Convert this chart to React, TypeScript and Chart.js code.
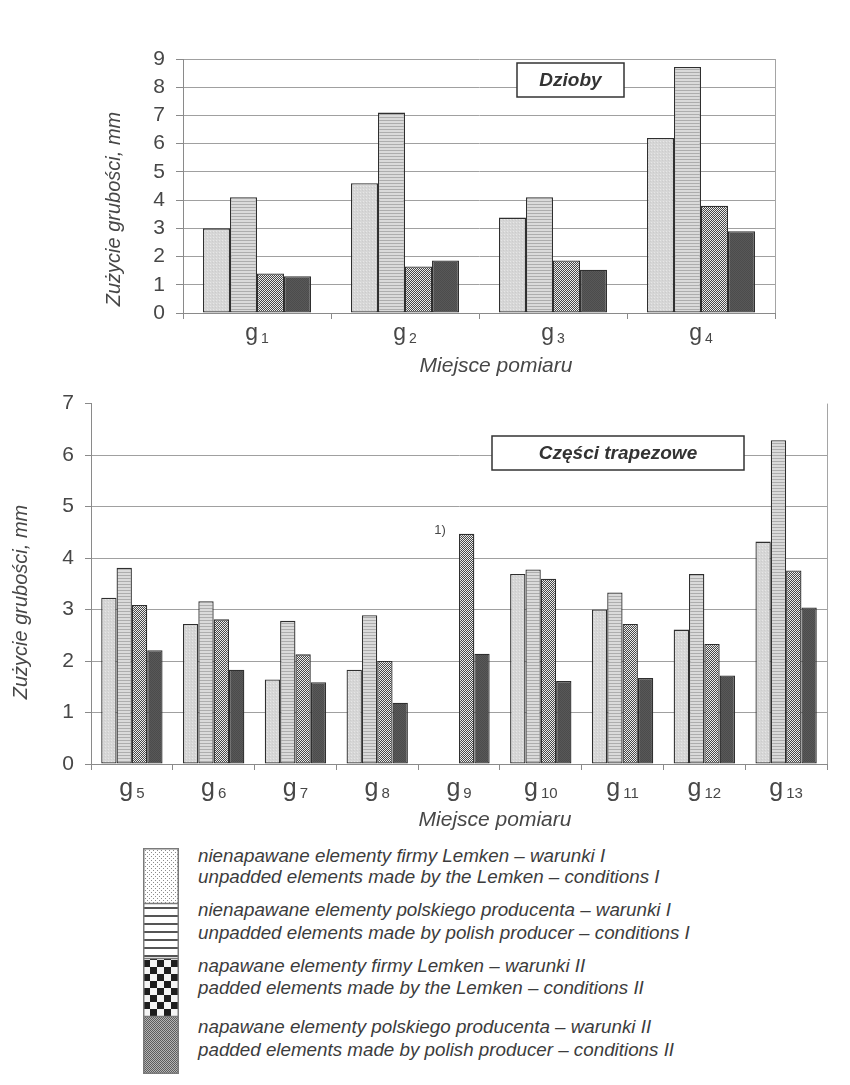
import React, { useEffect, useRef } from 'react';
import { Chart, registerables } from 'chart.js';

Chart.register(...registerables);

const FONT = '"Liberation Sans", Arial, Helvetica, sans-serif';
const TEXT = '#474747';

// ---------- data ----------
const topCategories = ['1', '2', '3', '4'];
const topLemkenI = [3.0, 4.6, 3.38, 6.2];
const topPolishI = [4.1, 7.1, 4.1, 8.72];
const topLemkenII = [1.4, 1.65, 1.86, 3.8];
const topPolishII = [1.3, 1.86, 1.53, 2.9];
const topMax = 9;

const bottomCategories = ['5', '6', '7', '8', '9', '10', '11', '12', '13'];
const bottomLemkenI = [3.23, 2.72, 1.64, 1.83, null, 3.69, 3.0, 2.61, 4.32];
const bottomPolishI = [3.81, 3.16, 2.78, 2.89, null, 3.78, 3.33, 3.69, 6.29];
const bottomLemkenII = [3.09, 2.81, 2.13, 2.0, 4.47, 3.6, 2.72, 2.33, 3.76];
const bottomPolishII = [2.21, 1.83, 1.59, 1.19, 2.14, 1.61, 1.67, 1.72, 3.04];
const bottomMax = 7;

const seriesNames = [
  'nienapawane elementy firmy Lemken – warunki I',
  'nienapawane elementy polskiego producenta – warunki I',
  'napawane elementy firmy Lemken – warunki II',
  'napawane elementy polskiego producenta – warunki II',
];
const seriesNamesEn = [
  'unpadded elements made by the Lemken – conditions I',
  'unpadded elements made by polish producer – conditions I',
  'padded elements made by the Lemken – conditions II',
  'padded elements made by polish producer – conditions II',
];

const xTitle = 'Miejsce pomiaru';
const yTitle = 'Zużycie grubości, mm';
const topTitle = 'Dzioby';
const bottomTitle = 'Części trapezowe';
const noteLabel = '1)';
const noteCategory = 4; // g9
const noteSeries = 2;

// ---------- patterns ----------
function tile(w: number, h: number, draw: (c: CanvasRenderingContext2D) => void): CanvasPattern {
  const cv = document.createElement('canvas');
  cv.width = w;
  cv.height = h;
  const c = cv.getContext('2d')!;
  draw(c);
  return c.createPattern(cv, 'repeat')!;
}

function barPatterns(): CanvasPattern[] {
  const p1 = tile(3, 3, (c) => {
    c.fillStyle = '#d6d6d6';
    c.fillRect(0, 0, 3, 3);
    c.fillStyle = '#e6e6e6';
    c.fillRect(0, 0, 1, 1);
    c.fillStyle = '#cccccc';
    c.fillRect(2, 1, 1, 1);
  });
  const p2 = tile(3, 3, (c) => {
    c.fillStyle = '#dadada';
    c.fillRect(0, 0, 3, 3);
    c.fillStyle = '#adadad';
    c.fillRect(0, 0, 3, 1);
  });
  const p3 = tile(2, 2, (c) => {
    c.fillStyle = '#474747';
    c.fillRect(0, 0, 2, 2);
    c.fillStyle = '#ececec';
    c.fillRect(0, 0, 1, 1);
    c.fillRect(1, 1, 1, 1);
  });
  const p4 = tile(2, 2, (c) => {
    c.fillStyle = '#585858';
    c.fillRect(0, 0, 2, 2);
    c.fillStyle = '#4c4c4c';
    c.fillRect(0, 0, 1, 1);
    c.fillRect(1, 1, 1, 1);
  });
  return [p1, p2, p3, p4];
}

// ---------- chart builder ----------
type Spec = {
  labels: string[];
  series: (number | null)[][];
  max: number;
  width: number;
  height: number;
  area: { left: number; right: number; top: number; bottom: number };
  catPct: number;
  tickLen: number;
  hideTopGrid: boolean;
  gFont: number;
  gBase: number;
  subFont: number;
  subBase: number;
  xTitleX: number;
  xTitleBase: number;
  yTitleX: number;
  yTitleY: number;
  box: { x: number; y: number; w: number; h: number };
  boxText: string;
  note?: boolean;
};

function buildChart(canvas: HTMLCanvasElement, s: Spec): Chart {
  const pats = barPatterns();
  const decor = {
    id: 'decor',
    afterDraw(chart: any) {
      const { ctx, chartArea: a } = chart;
      const x = chart.scales.x;
      const y = chart.scales.y;
      ctx.save();
      // right border of plot
      ctx.strokeStyle = '#a5a5a5';
      ctx.lineWidth = 1;
      ctx.beginPath();
      ctx.moveTo(Math.round(a.right) + 0.5, a.top);
      ctx.lineTo(Math.round(a.right) + 0.5, a.bottom);
      ctx.stroke();

      // category labels g + subscript
      ctx.fillStyle = TEXT;
      ctx.textBaseline = 'alphabetic';
      ctx.textAlign = 'left';
      s.labels.forEach((lab, i) => {
        const cx = x.getPixelForValue(i);
        ctx.font = `${s.gFont}px ${FONT}`;
        const gw = ctx.measureText('g').width;
        ctx.font = `${s.subFont}px ${FONT}`;
        const sw = ctx.measureText(lab).width;
        const gap = 3;
        const sx = cx - (gw + gap + sw) / 2;
        ctx.font = `${s.gFont}px ${FONT}`;
        ctx.fillText('g', sx, s.gBase);
        ctx.font = `${s.subFont}px ${FONT}`;
        ctx.fillText(lab, sx + gw + gap, s.subBase);
      });

      // x title
      ctx.font = `italic 21px ${FONT}`;
      ctx.textAlign = 'center';
      ctx.fillText(xTitle, s.xTitleX, s.xTitleBase);

      // y title
      ctx.save();
      ctx.translate(s.yTitleX, s.yTitleY);
      ctx.rotate(-Math.PI / 2);
      ctx.font = `italic 20px ${FONT}`;
      ctx.textAlign = 'center';
      ctx.textBaseline = 'middle';
      ctx.fillText(yTitle, 0, 0);
      ctx.restore();

      // title box
      const b = s.box;
      ctx.fillStyle = '#ffffff';
      ctx.fillRect(b.x, b.y, b.w, b.h);
      ctx.strokeStyle = '#333333';
      ctx.lineWidth = 1.5;
      ctx.strokeRect(b.x, b.y, b.w, b.h);
      ctx.fillStyle = '#333333';
      ctx.font = `italic bold 19px ${FONT}`;
      ctx.textAlign = 'center';
      ctx.textBaseline = 'middle';
      ctx.fillText(s.boxText, b.x + b.w / 2, b.y + b.h / 2 + 1);

      // note
      if (s.note) {
        const v = s.series[noteSeries][noteCategory] as number;
        const nx = x.getPixelForValue(noteCategory) - 19;
        const ny = y.getPixelForValue(v);
        ctx.fillStyle = TEXT;
        ctx.font = `13px ${FONT}`;
        ctx.textAlign = 'center';
        ctx.textBaseline = 'alphabetic';
        ctx.fillText(noteLabel, nx, ny);
      }
      ctx.restore();
    },
  };

  const padLeft = 0;
  return new Chart(canvas, {
    type: 'bar',
    data: {
      labels: s.labels,
      datasets: s.series.map((d, i) => ({
        label: seriesNames[i],
        data: d,
        backgroundColor: pats[i],
        borderColor: '#2f2f2f',
        borderWidth: 1.3,
        borderSkipped: false,
        categoryPercentage: s.catPct,
        barPercentage: 1.0,
      })),
    },
    options: {
      responsive: false,
      animation: false,
      devicePixelRatio: 1,
      layout: {
        padding: {
          left: padLeft,
          right: s.width - s.area.right,
          top: s.area.top,
          bottom: 0,
        },
      },
      plugins: {
        legend: { display: false },
        tooltip: { enabled: false },
        title: { display: false },
      },
      scales: {
        x: {
          type: 'category',
          offset: true,
          grid: {
            display: true,
            drawOnChartArea: false,
            drawTicks: true,
            tickLength: 6,
            offset: true,
            color: '#8a8a8a',
            tickColor: '#8a8a8a',
          },
          border: { display: true, color: '#8a8a8a', width: 1 },
          ticks: { display: false },
          afterFit: (scale: any) => {
            scale.height = s.height - s.area.bottom;
          },
        },
        y: {
          min: 0,
          max: s.max,
          ticks: {
            stepSize: 1,
            color: TEXT,
            font: { family: FONT, size: 21 },
            padding: 11,
          },
          grid: {
            color: (c: any) =>
              s.hideTopGrid && c.tick && c.tick.value === s.max ? 'rgba(0,0,0,0)' : '#a0a0a0',
            tickColor: '#8a8a8a',
            tickLength: s.tickLen,
            lineWidth: 1,
          },
          border: { display: true, color: '#8a8a8a', width: 1 },
          afterFit: (scale: any) => {
            scale.width = s.area.left - padLeft;
          },
        },
      },
    },
    plugins: [decor],
  } as any);
}

// ---------- legend ----------
function drawLegendPatches(cv: HTMLCanvasElement) {
  const c = cv.getContext('2d')!;
  const W = cv.width;
  const bounds = [0, 55, 110, 168, 225];
  c.fillStyle = '#ffffff';
  c.fillRect(0, 0, W, cv.height);
  const p1 = tile(4, 4, (t) => {
    t.fillStyle = '#ffffff';
    t.fillRect(0, 0, 4, 4);
    t.fillStyle = '#8c8c8c';
    t.fillRect(0, 0, 1, 1);
    t.fillRect(2, 2, 1, 1);
  });
  const p2 = tile(4, 8, (t) => {
    t.fillStyle = '#ffffff';
    t.fillRect(0, 0, 4, 8);
    t.fillStyle = '#555555';
    t.fillRect(0, 3, 4, 2);
  });
  const p3 = tile(14, 14, (t) => {
    t.fillStyle = '#f4f4f4';
    t.fillRect(0, 0, 14, 14);
    t.fillStyle = '#1e1e1e';
    t.fillRect(0, 0, 7, 7);
    t.fillRect(7, 7, 7, 7);
  });
  const p4 = tile(2, 2, (t) => {
    t.fillStyle = '#5c5c5c';
    t.fillRect(0, 0, 2, 2);
    t.fillStyle = '#b5b5b5';
    t.fillRect(0, 0, 1, 1);
    t.fillRect(1, 1, 1, 1);
  });
  const pats = [p1, p2, p3, p4];
  for (let i = 0; i < 4; i++) {
    c.fillStyle = pats[i];
    c.fillRect(1, bounds[i] + 1, W - 2, bounds[i + 1] - bounds[i]);
  }
  c.strokeStyle = '#7a7a7a';
  c.lineWidth = 1.5;
  c.strokeRect(0.75, 0.75, W - 1.5, bounds[4] - 0.5);
  for (let i = 1; i < 4; i++) {
    c.beginPath();
    c.moveTo(0, bounds[i] + 0.5);
    c.lineTo(W, bounds[i] + 0.5);
    c.stroke();
  }
}

const legendBaselines = [863, 884, 917, 940, 973, 995, 1034, 1057];

export default function App() {
  const topRef = useRef<HTMLCanvasElement>(null);
  const botRef = useRef<HTMLCanvasElement>(null);
  const legRef = useRef<HTMLCanvasElement>(null);

  useEffect(() => {
    const top = buildChart(topRef.current!, {
      labels: topCategories,
      series: [topLemkenI, topPolishI, topLemkenII, topPolishII],
      max: topMax,
      width: 850,
      height: 380,
      area: { left: 183, right: 775, top: 59, bottom: 313 },
      catPct: 0.73,
      tickLen: 7,
      hideTopGrid: false,
      gFont: 23,
      gBase: 340,
      subFont: 14,
      subBase: 343,
      xTitleX: 496,
      xTitleBase: 372,
      yTitleX: 114,
      yTitleY: 209,
      box: { x: 517, y: 63, w: 107, h: 34 },
      boxText: topTitle,
    });
    const bot = buildChart(botRef.current!, {
      labels: bottomCategories,
      series: [bottomLemkenI, bottomPolishI, bottomLemkenII, bottomPolishII],
      max: bottomMax,
      width: 850,
      height: 465,
      area: { left: 91, right: 827, top: 23, bottom: 384 },
      catPct: 0.75,
      tickLen: 6,
      hideTopGrid: true,
      gFont: 25,
      gBase: 796 - 380,
      subFont: 15,
      subBase: 798 - 380,
      xTitleX: 495,
      xTitleBase: 826 - 380,
      yTitleX: 21,
      yTitleY: 602 - 380,
      box: { x: 492, y: 436 - 380, w: 252, h: 34 },
      boxText: bottomTitle,
      note: true,
    });
    if (legRef.current) drawLegendPatches(legRef.current);
    return () => {
      top.destroy();
      bot.destroy();
    };
  }, []);

  const legendTexts: string[] = [];
  for (let i = 0; i < 4; i++) {
    legendTexts.push(seriesNames[i], seriesNamesEn[i]);
  }
  const fs = 18.8;

  return (
    <div
      style={{
        position: 'absolute',
        left: 0,
        top: 0,
        width: 850,
        height: 1085,
        background: '#ffffff',
        overflow: 'hidden',
      }}
    >
      <canvas
        ref={topRef}
        width={850}
        height={380}
        style={{ position: 'absolute', left: 0, top: 0, width: 850, height: 380 }}
      />
      <canvas
        ref={botRef}
        width={850}
        height={465}
        style={{ position: 'absolute', left: 0, top: 380, width: 850, height: 465 }}
      />
      <canvas
        ref={legRef}
        width={36}
        height={226}
        style={{ position: 'absolute', left: 143, top: 848, width: 36, height: 226 }}
      />
      {legendTexts.map((t, i) => (
        <div
          key={i}
          style={{
            position: 'absolute',
            left: 198,
            top: legendBaselines[i] - fs * 0.8465,
            fontFamily: FONT,
            fontStyle: 'italic',
            fontSize: fs,
            lineHeight: `${fs}px`,
            color: '#3c3c3c',
            whiteSpace: 'nowrap',
          }}
        >
          {t}
        </div>
      ))}
    </div>
  );
}
